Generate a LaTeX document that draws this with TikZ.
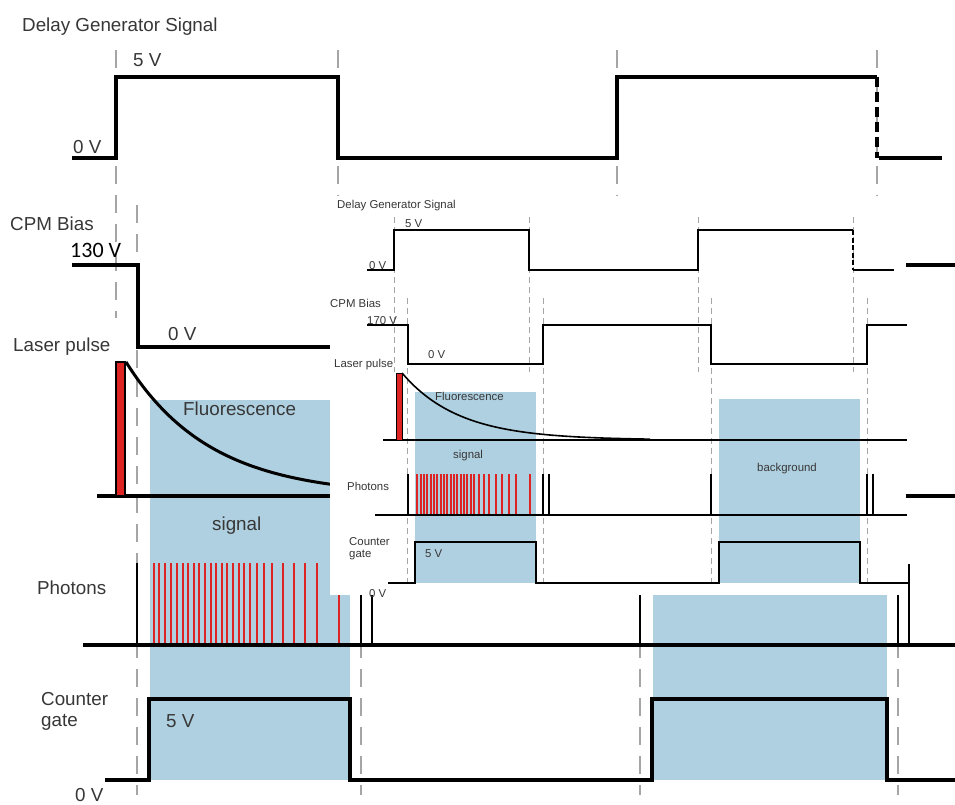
\documentclass[tikz,border=0pt]{standalone}
\usepackage{fontspec}
\setmainfont{Liberation Sans}
\newfontfamily\editfont{Carlito}
\definecolor{windowblue}{RGB}{175, 208, 224}
\definecolor{pulsered}{RGB}{222, 35, 35}
\definecolor{guidegray}{RGB}{165, 165, 165}
\definecolor{labelgray}{RGB}{55, 55, 55}

\begin{document}
\begin{tikzpicture}[x=1pt,y=-1pt,
    bigsig/.style={line width=3.6pt},
    smallsig/.style={line width=1.4pt},
    bigguide/.style={guidegray, line width=2pt, dash pattern=on 18pt off 11pt},
    smallguide/.style={guidegray, line width=1pt, dash pattern=on 6pt off 4pt},
    biglbl/.style={anchor=base west, inner sep=0pt, text=labelgray, font=\fontsize{18.8}{20}\selectfont},
    smalllbl/.style={anchor=base west, inner sep=0pt, text=labelgray, font=\fontsize{11.4}{12}\selectfont}]
    \useasboundingbox (0,0) rectangle (955,805);
    \fill[white] (0,0) rectangle (955,805);

    % large timing chart
    \fill[windowblue] (150,400) rectangle (350,780);
    \fill[windowblue] (653,400) rectangle (887,780);
    \foreach \x in {116,338,617,877} \draw[bigguide] (\x,50) -- (\x,318);
    \foreach \x in {137,361,640,898} \draw[bigguide] (\x,205) -- (\x,795);

    \draw[bigsig] (72,158) -- (116,158) -- (116,77) -- (338,77) -- (338,158) -- (617,158) -- (617,77) -- (877,77);
    \draw[bigsig, dash pattern=on 10pt off 5pt] (877,77) -- (877,158);
    \draw[bigsig] (879,158) -- (942,158);
    \draw[bigsig] (72,265) -- (138,265) -- (138,347) -- (361,347) -- (361,265) -- (640,265) -- (640,347) -- (898,347) -- (898,265) -- (955,265);

    \draw[bigsig] (97,496) -- (955,496);
    \draw[line width=3pt] plot[domain=126:340, samples=60] (\x, {496-134*exp(-(\x-126)/84)});
    \filldraw[fill=pulsered, draw=black, line width=2.5pt] (116,362) rectangle (125,496);

    \draw[bigsig] (83,645) -- (955,645);
    \foreach \x in {154,159,165,171,177,183,188,194,199,205,211,216,222,227,233,239,244,250,257,264,272,283,294,305,317,339}
        \draw[pulsered, line width=2.4pt] (\x,563) -- (\x,643);
    \foreach \x in {137,361,372,640,898} \draw[line width=2.5pt] (\x,563) -- (\x,645);

    \draw[bigsig] (105,780) -- (149,780) -- (149,699) -- (350,699) -- (350,780) -- (652,780) -- (652,699) -- (887,699) -- (887,780) -- (955,780);

    \node[biglbl] (dgtitle) at (22,32) {Delay Generator Signal};
    \node[biglbl] (dghigh) at (133,67) {5 V};
    \node[biglbl] (dglow) at (73,154) {0 V};
    \node[biglbl] (cpmtitle) at (10,230) {CPM Bias};
    \node[anchor=base west, inner sep=0pt, font=\editfont\fontsize{22}{24}\selectfont] (cpmhigh) at (70,257) {130 V};
    \node[biglbl] (cpmlow) at (168,340) {0 V};
    \node[biglbl] (lasertitle) at (13,351) {Laser pulse};
    \node[biglbl] (fluor) at (183,415) {Fluorescence};
    \node[biglbl] (sigwin) at (212,530) {signal};
    \node[biglbl] (phottitle) at (37,594) {Photons};
    \node[biglbl] (gatetitle) at (41,705) {Counter};
    \node[biglbl] (gatetitleb) at (41,726) {gate};
    \node[biglbl] (gatehigh) at (166,727) {5 V};
    \node[biglbl] (gatelow) at (75,801) {0 V};

    % pasted small chart
    \fill[white] (330,196) rectangle (906,595);
    \fill[windowblue] (415,392) rectangle (536,583);
    \fill[windowblue] (719,399) rectangle (860,583);
    \foreach \x in {394,529,698,853} \draw[smallguide] (\x,217) -- (\x,372);
    \foreach \x in {407,543,711,867} \draw[smallguide] (\x,298) -- (\x,587);

    \draw[smallsig] (367,270) -- (394,270) -- (394,230) -- (529,230) -- (529,270) -- (698,270) -- (698,230) -- (853,230);
    \draw[smallsig, dash pattern=on 5pt off 2.5pt] (853,230) -- (853,270);
    \draw[smallsig] (853,270) -- (894,270);
    \draw[smallsig] (367,325) -- (408,325) -- (408,364) -- (543,364) -- (543,325) -- (711,325) -- (711,364) -- (867,364) -- (867,325) -- (907,325);

    \draw[smallsig] (383,440) -- (907,440);
    \draw[line width=1.6pt] plot[domain=402:650, samples=60] (\x, {440-67*exp(-(\x-402)/57)});
    \filldraw[fill=pulsered, draw=black, line width=1pt] (396,373) rectangle (402,440);

    \draw[smallsig] (375,515) -- (907,515);
    \foreach \x in {417,421,424,427,431,434,437,441,444,447,451,454,457,461,464,467,471,474,479,484,489,496,502,509,516,530}
        \draw[pulsered, line width=1.2pt] (\x,474) -- (\x,514);
    \foreach \x in {408,543,549,711,867,873} \draw[line width=1.2pt] (\x,474) -- (\x,515);

    \draw[smallsig] (388,583) -- (415,583) -- (415,542) -- (536,542) -- (536,583) -- (719,583) -- (719,542) -- (860,542) -- (860,583) -- (909,583);
    \draw[smallsig] (909,564) -- (909,645);

    \node[smalllbl] (sdgtitle) at (337,208) {Delay Generator Signal};
    \node[smalllbl] (sdghigh) at (405,227) {5 V};
    \node[smalllbl] (sdglow) at (369,269) {0 V};
    \node[smalllbl] (scpmtitle) at (330,307) {CPM Bias};
    \node[smalllbl] (scpmhigh) at (367,324) {170 V};
    \node[smalllbl] (scpmlow) at (428,358) {0 V};
    \node[smalllbl] (slasertitle) at (334,367) {Laser pulse};
    \node[smalllbl] (sfluor) at (435,400) {Fluorescence};
    \node[smalllbl] (ssigwin) at (453,458) {signal};
    \node[smalllbl] (sbgwin) at (757,471) {background};
    \node[smalllbl] (sphottitle) at (347,490) {Photons};
    \node[smalllbl] (sgatetitle) at (349,545) {Counter};
    \node[smalllbl] (sgatetitleb) at (349,557) {gate};
    \node[smalllbl] (sgatehigh) at (425,557) {5 V};
    \node[smalllbl] (sgatelow) at (369,597) {0 V};
\end{tikzpicture}
\end{document}
